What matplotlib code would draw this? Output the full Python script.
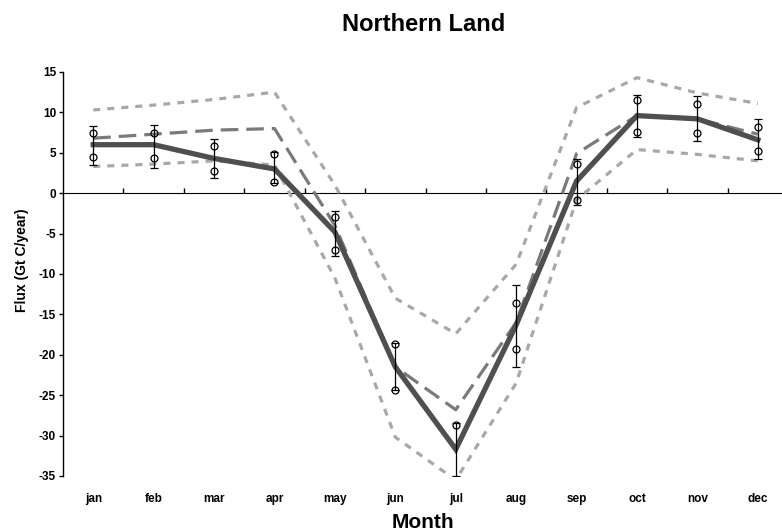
import numpy as np
import matplotlib
matplotlib.use("Agg")
import matplotlib.pyplot as plt

months = ['jan', 'feb', 'mar', 'apr', 'may', 'jun', 'jul', 'aug', 'sep', 'oct', 'nov', 'dec']
solid_vals = [6.0, 6.0, 4.3, 3.0, -4.8, -21.5, -31.7, -16.3, 1.5, 9.6, 9.2, 6.6]
dashed_vals = [6.8, 7.3, 7.8, 8.0, -4.0, -21.5, -26.8, -16.0, 4.9, 9.6, 9.2, 7.3]
upper_vals = [10.3, 10.9, 11.6, 12.5, 1.0, -13.0, -17.4, -8.8, 10.6, 14.3, 12.4, 11.1]
lower_vals = [3.3, 3.6, 4.0, 3.5, -10.5, -30.2, -35.5, -23.5, -0.8, 5.4, 4.8, 4.0]
err_top = [8.3, 8.4, 6.7, 5.1, -2.2, -18.5, -28.5, -11.4, 4.2, 12.2, 12.0, 9.2]
err_bot = [3.5, 3.1, 1.9, 1.2, -7.8, -24.3, -35.0, -21.5, -1.5, 7.0, 6.4, 4.2]
circ_a = [7.4, 7.4, 5.8, 4.8, -2.9, -18.7, -28.7, -13.6, 3.6, 11.5, 11.0, 8.2]
circ_b = [4.5, 4.4, 2.8, 1.4, -7.0, -24.3, np.nan, -19.3, -0.9, 7.6, 7.5, 5.2]
yticks = [15, 10, 5, 0, -5, -10, -15, -20, -25, -30, -35]

plt.rcParams['font.family'] = ['Liberation Sans', 'DejaVu Sans']

fig = plt.figure(figsize=(7.82, 5.32), dpi=100)
ax = fig.add_axes([0.0806, 0.1053, 0.9194, 0.7594])
x = np.arange(len(months))

ax.plot(x, upper_vals, color='#a8a8a8', lw=2.3, ls=(0, (2.2, 2.2)), zorder=2)
ax.plot(x, lower_vals, color='#a8a8a8', lw=2.3, ls=(0, (2.2, 2.2)), zorder=2)
ax.plot(x, dashed_vals, color='#7a7a7a', lw=2.3, ls=(0, (5.5, 2.5)), zorder=3)
ax.plot(x, solid_vals, color='#4f4f4f', lw=3.8, solid_joinstyle='miter', zorder=4)

mid = (np.array(err_top) + np.array(err_bot)) / 2
half = (np.array(err_top) - np.array(err_bot)) / 2
ax.errorbar(x, mid, yerr=half, fmt='none', ecolor='black', elinewidth=0.9,
            capsize=3, capthick=0.9, zorder=5)
ax.plot(x, circ_a, ls='none', marker='o', ms=5, mfc='none', mec='black', mew=0.9, zorder=6)
ax.plot(x, circ_b, ls='none', marker='o', ms=5, mfc='none', mec='black', mew=0.9, zorder=6)

ax.set_xlim(-0.5, 11.4)
ax.set_ylim(-35, 15)
for s in ['top', 'right', 'bottom']:
    ax.spines[s].set_visible(False)
ax.spines['left'].set_linewidth(1.0)

ax.set_yticks(yticks)
ax.set_yticklabels([str(v) for v in yticks], fontsize=8.5, fontweight='bold')
ax.tick_params(axis='y', direction='out', length=3, width=1, pad=2)

ax.set_xticks(x)
ax.set_xticklabels(months, fontsize=8.5, fontweight='bold')
ax.tick_params(axis='x', length=0, pad=12)

zero_frac = (0 - (-35)) / (15 - (-35))
sec = ax.secondary_xaxis(zero_frac)
sec.set_xticks(x[:-1] + 0.5)
sec.set_xticklabels([])
sec.tick_params(axis='x', direction='out', length=3.5, width=1)
sec.spines['bottom'].set_linewidth(1.0)

ax.set_ylabel('Flux (Gt C/year)', fontsize=10, fontweight='bold')
ax.yaxis.set_label_coords(-0.047, 0.535)
ax.set_xlabel('Month', fontsize=15, fontweight='bold', labelpad=6)
fig.suptitle('Northern Land', fontsize=17, fontweight='bold', x=0.542, y=0.975)

fig.savefig('out.png', dpi=100)
